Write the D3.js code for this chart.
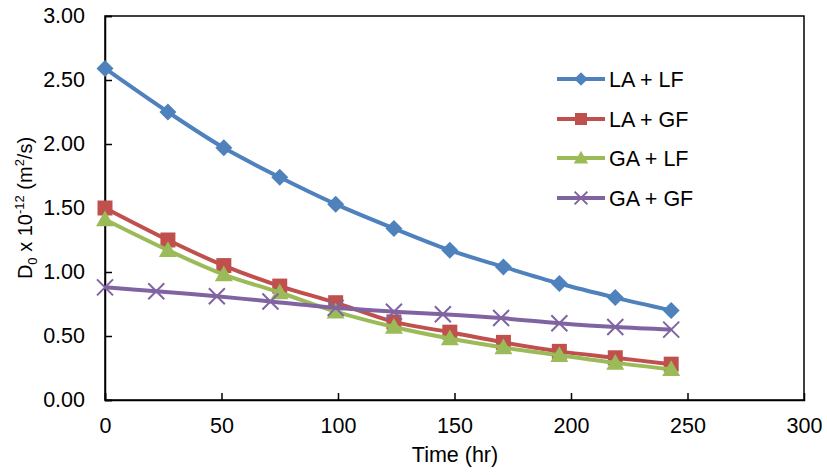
<!DOCTYPE html>
<html><head><meta charset="utf-8">
<script src="https://cdn.jsdelivr.net/npm/d3@7"></script>
<style>body{margin:0;background:#fff}svg{display:block}text{font-family:"Liberation Sans",Arial,sans-serif;fill:#000}</style>
</head><body><svg id="c" width="827" height="475"></svg>
<script>
const seriesNames = ["LA + LF","LA + GF","GA + LF","GA + GF"];
const timeMain = [0,27,51,75,99,124,148,171,195,219,243];
const timePurple = [0,22,48,71,99,124,145,170,195,219,243];
const laLf = [2.59,2.25,1.97,1.74,1.53,1.34,1.17,1.04,0.91,0.80,0.70];
const laGf = [1.50,1.25,1.05,0.89,0.76,0.61,0.53,0.45,0.38,0.33,0.28];
const gaLf = [1.41,1.17,0.98,0.84,0.69,0.57,0.48,0.41,0.35,0.29,0.24];
const gaGf = [0.88,0.85,0.81,0.77,0.72,0.69,0.67,0.64,0.60,0.57,0.55];
const xTicks = [0,50,100,150,200,250,300];
const yTicks = [0,0.5,1,1.5,2,2.5,3];
const colors = ["#4F81BD","#C0504D","#9BBB59","#8064A2"];
const markers = ["diamond","square","triangle","x"];

const svg = d3.select("#c");
const L=105, R=804, T=16, B=400;
const FS = 21.5;
const x = d3.scaleLinear().domain([0,300]).range([L,R]);
const y = d3.scaleLinear().domain([0,3]).range([B,T]);

const series = [
  {name:seriesNames[0], xs:timeMain, ys:laLf},
  {name:seriesNames[1], xs:timeMain, ys:laGf},
  {name:seriesNames[2], xs:timeMain, ys:gaLf},
  {name:seriesNames[3], xs:timePurple, ys:gaGf}
];

// frame
svg.append("rect").attr("x",L).attr("y",T).attr("width",R-L).attr("height",B-T)
  .attr("fill","none").attr("stroke","#000").attr("stroke-width",1.5);

const xAxis = svg.append("g").attr("transform",`translate(0,${B})`)
  .call(d3.axisBottom(x).tickValues(xTicks).tickSize(-7).tickPadding(18).tickFormat(d3.format("d")));
const yAxis = svg.append("g").attr("transform",`translate(${L},0)`)
  .call(d3.axisLeft(y).tickValues(yTicks).tickSize(-7).tickPadding(20).tickFormat(d3.format(".2f")));
[xAxis,yAxis].forEach(g=>{
  g.select(".domain").attr("stroke","#000").attr("stroke-width",1.5);
  g.selectAll(".tick line").attr("stroke","#000").attr("stroke-width",1.5);
  g.selectAll(".tick text").attr("font-size",FS).attr("font-family","Liberation Sans, Arial, sans-serif").attr("fill","#000");
});
xAxis.selectAll(".tick").filter(d=>d===300).select("line").remove();

// axis titles
svg.append("text").attr("x",455).attr("y",462).attr("text-anchor","middle").attr("font-size",FS).text("Time (hr)");
const yt = svg.append("text").attr("transform","translate(32,208) rotate(-90)").attr("text-anchor","middle").attr("font-size",20);
yt.append("tspan").text("D");
yt.append("tspan").attr("font-size",13).attr("dy",5).text("0");
yt.append("tspan").attr("dy",-5).text(" x 10");
yt.append("tspan").attr("font-size",13).attr("dy",-8).text("-12");
yt.append("tspan").attr("dy",8).text(" (m");
yt.append("tspan").attr("font-size",13).attr("dy",-8).text("2");
yt.append("tspan").attr("dy",8).text("/s)");

function drawMarker(g, type, color, cx, cy, k){
  k = k||1;
  if(type==="diamond"){
    const r=8.5*k;
    g.append("path").attr("d",`M${cx},${cy-r}L${cx+r},${cy}L${cx},${cy+r}L${cx-r},${cy}Z`).attr("fill",color);
  } else if(type==="square"){
    const h=7.5*k;
    g.append("rect").attr("x",cx-h).attr("y",cy-h).attr("width",2*h).attr("height",2*h).attr("fill",color);
  } else if(type==="triangle"){
    const h=9*k;
    g.append("path").attr("d",`M${cx},${cy-h}L${cx+h},${cy+h*0.75}L${cx-h},${cy+h*0.75}Z`).attr("fill",color);
  } else {
    const h=8*k;
    g.append("path").attr("d",`M${cx-h},${cy-h}L${cx+h},${cy+h}M${cx-h},${cy+h}L${cx+h},${cy-h}`)
      .attr("stroke",color).attr("stroke-width",2).attr("fill","none");
  }
}

const line = d3.line().x(d=>x(d[0])).y(d=>y(d[1])).curve(d3.curveCatmullRom.alpha(0.5));
series.forEach((s,i)=>{
  const pts = s.xs.map((t,j)=>[t,s.ys[j]]);
  const g = svg.append("g");
  g.append("path").attr("d",line(pts)).attr("fill","none").attr("stroke",colors[i]).attr("stroke-width",4);
  pts.forEach(p=>drawMarker(g, markers[i], colors[i], x(p[0]), y(p[1])));
});

// legend
const legY = [79,119,158,198];
series.forEach((s,i)=>{
  const g = svg.append("g");
  g.append("line").attr("x1",557).attr("x2",605).attr("y1",legY[i]).attr("y2",legY[i])
    .attr("stroke",colors[i]).attr("stroke-width",4);
  drawMarker(g, markers[i], colors[i], 581, legY[i], 0.8);
  g.append("text").attr("x",609).attr("y",legY[i]+8).attr("font-size",FS).text(s.name);
});
</script></body></html>
